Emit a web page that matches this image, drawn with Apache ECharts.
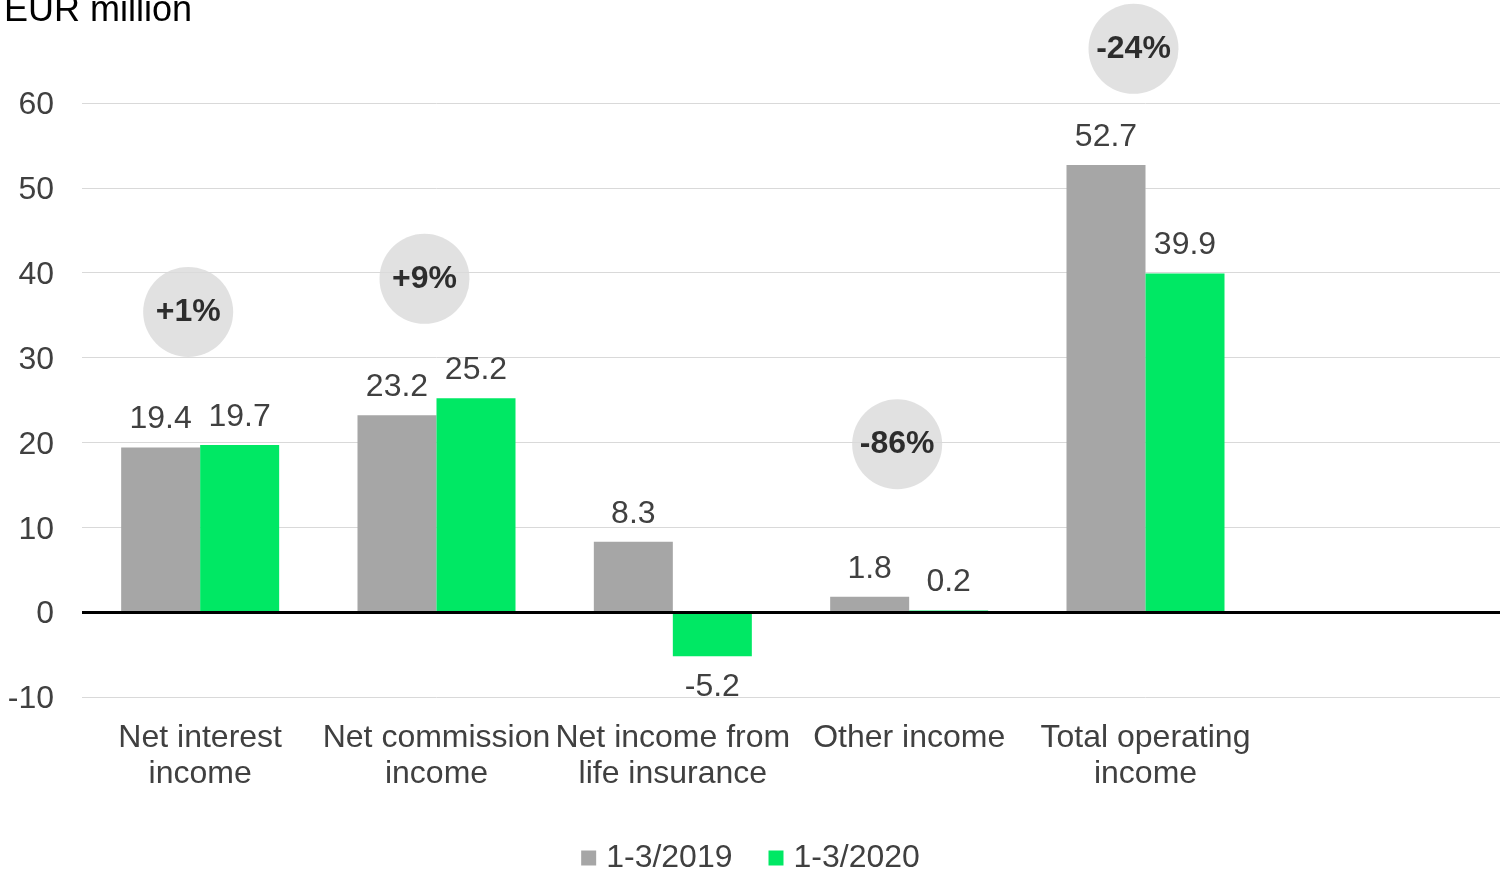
<!DOCTYPE html>
<html>
<head>
<meta charset="utf-8">
<script src="https://cdn.jsdelivr.net/npm/echarts@6/dist/echarts.min.js"></script>
<style>
  html, body { margin: 0; padding: 0; background: #ffffff; }
  #chart { width: 1501px; height: 873px; }
</style>
</head>
<body>
<div id="chart"></div>
<script>
// Income components, EUR million
const categories = ['Net interest\nincome', 'Net commission\nincome', 'Net income from\nlife insurance', 'Other income', 'Total operating\nincome'];
const values2019 = [19.4, 23.2, 8.3, 1.8, 52.7];
const values2020 = [19.7, 25.2, -5.2, 0.2, 39.9];
// Year-on-year change badges and the height (EUR million) at which each sits
const changeLabels = ['+1%', '+9%', null, '-86%', '-24%'];
const changeLevels = [35.5, 39.4, null, 19.9, 66.5];
const yTicks = { min: -10, max: 60, step: 10 };

const GREY = '#a6a6a6';
const GREEN = '#00e864';
const TEXT = '#404040';
const FONT = 'Liberation Sans, Arial, sans-serif';
const FS = 32;

// one empty slot on the right keeps the plot width as in the report layout
const axisCategories = categories.concat(['']);

const badgeData = [];
changeLabels.forEach((t, i) => {
  if (t !== null) {
    badgeData.push({
      value: [i, changeLevels[i]],
      label: { formatter: t, color: '#000000', fontWeight: 'bold' }
    });
  }
});

const chart = echarts.init(document.getElementById('chart'), null, { renderer: 'canvas' });
chart.setOption({
  animation: false,
  backgroundColor: '#ffffff',
  textStyle: { fontFamily: FONT },
  title: {
    text: 'EUR million',
    left: -1, top: -12,
    textStyle: { fontFamily: FONT, fontSize: 36, fontWeight: 'normal', color: '#000000' }
  },
  legend: {
    data: ['1-3/2019', '1-3/2020'],
    bottom: -6,
    left: 'center',
    icon: 'rect',
    itemWidth: 15, itemHeight: 15,
    itemGap: 36,
    textStyle: { fontFamily: FONT, fontSize: FS, color: TEXT, padding: [0, 0, 0, 5] }
  },
  grid: { left: 82, right: 1, top: 103, bottom: 176, containLabel: false },
  xAxis: {
    type: 'category',
    data: axisCategories,
    axisLine: { show: false },
    axisTick: { show: false },
    axisLabel: {
      interval: 0, margin: 23,
      fontFamily: FONT, fontSize: FS, lineHeight: 36, color: TEXT
    }
  },
  yAxis: {
    type: 'value',
    min: yTicks.min, max: yTicks.max, interval: yTicks.step,
    axisLine: { show: false },
    axisTick: { show: false },
    axisLabel: {
      margin: 28, color: TEXT,
      formatter: '{t|{value}}',
      rich: { t: { fontFamily: FONT, fontSize: FS, color: TEXT, padding: [5, 0, 0, 0] } }
    },
    splitLine: { lineStyle: { color: '#d9d9d9', width: 1 } }
  },
  series: [
    {
      name: '1-3/2019',
      type: 'bar',
      data: values2019,
      barWidth: 79,
      barGap: '0%',
      itemStyle: { color: GREY },
      label: {
        show: true, position: 'top', distance: 12,
        fontFamily: FONT, fontSize: FS, color: TEXT,
        formatter: p => p.value.toFixed(1)
      }
    },
    {
      name: '1-3/2020',
      type: 'bar',
      data: values2020.map(v => ({
        value: v,
        label: { position: v < 0 ? 'bottom' : 'top', distance: v < 0 ? 15 : 12 }
      })),
      barWidth: 79,
      barGap: '0%',
      itemStyle: { color: GREEN },
      label: {
        show: true,
        fontFamily: FONT, fontSize: FS, color: TEXT,
        formatter: p => p.value.toFixed(1)
      },
      markLine: {
        silent: true,
        symbol: ['none', 'none'],
        label: { show: false },
        lineStyle: { color: '#000000', width: 3, type: 'solid' },
        data: [{ yAxis: 0 }]
      }
    },
    {
      name: 'change',
      type: 'scatter',
      data: badgeData,
      clip: false,
      symbol: 'circle',
      symbolSize: 90,
      symbolOffset: [-12, 1],
      itemStyle: { color: '#d9d9d9' },
      label: {
        show: true, position: 'inside',
        fontFamily: FONT, fontSize: FS, fontWeight: 'bold', color: '#000000'
      },
      z: 5
    }
  ]
});
</script>
</body>
</html>
